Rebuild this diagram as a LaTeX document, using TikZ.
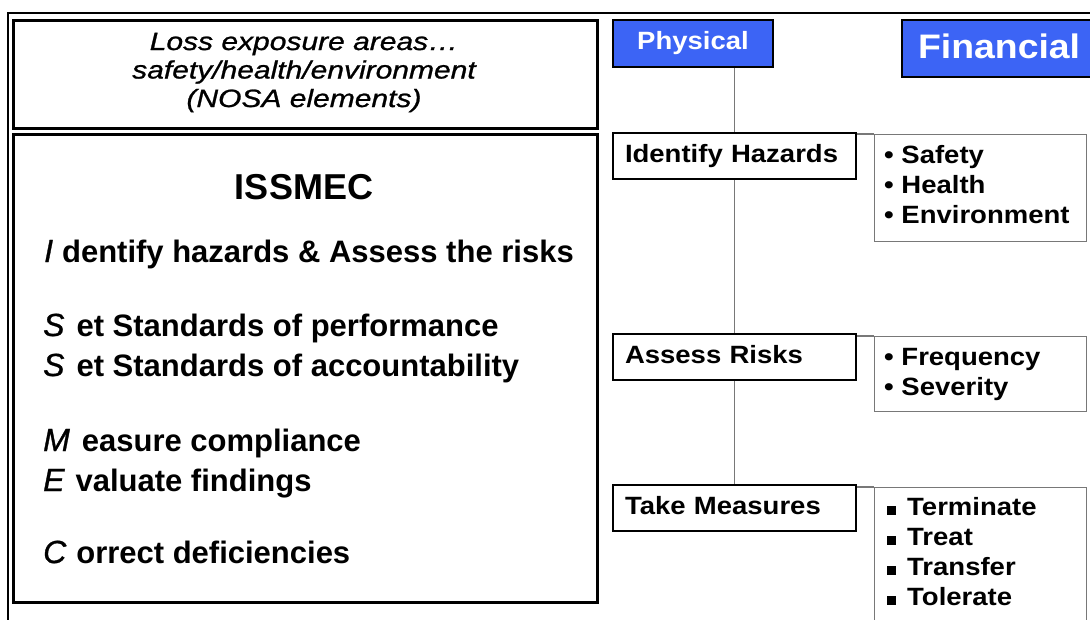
\documentclass[tikz,border=0pt]{standalone}
\usepackage{fontspec}
\setmainfont{Liberation Sans}
\newfontfamily\rfont{Liberation Sans}[FakeStretch=1.1]
\newfontfamily\tfont{Liberation Sans}[FakeStretch=1.2,FakeBold=1]
\newfontfamily\ifont{Liberation Sans}[FakeBold=1]
\definecolor{hdrblue}{RGB}{60,100,245}
\definecolor{linegray}{RGB}{120,120,120}
\newcommand\initl[1]{{\ifont\mdseries\itshape\fontsize{32}{32}\selectfont #1}}
\newcommand\sqbul{\raisebox{0.5pt}{\rule{9pt}{9pt}}\hspace{11pt}}
\begin{document}
\begin{tikzpicture}[x=1pt,y=-1pt,
  bigbox/.style={draw=black, line width=2.5pt, rectangle, inner sep=0pt, anchor=north west},
  stepbox/.style={draw=black, line width=2pt, rectangle, inner xsep=12pt, inner ysep=0pt,
     text width=219pt, minimum height=46pt, align=left, text height=18pt, text depth=5.5pt,
     font=\rfont\bfseries\fontsize{25}{30}\selectfont},
  listbox/.style={draw=linegray, line width=1.2pt, rectangle, inner sep=0pt, anchor=north west},
  listtext/.style={anchor=base west, inner sep=0pt, font=\rfont\bfseries\fontsize{25}{30}\selectfont},
  hdr/.style={draw=black, line width=2pt, fill=hdrblue, text=white, rectangle, inner sep=0pt},
  conn/.style={draw=linegray, line width=1.5pt},
  toptext/.style={anchor=base, inner sep=0pt, font=\tfont\itshape\fontsize{25}{28}\selectfont},
  lbody/.style={anchor=base west, inner sep=0pt, font=\bfseries\fontsize{31}{36}\selectfont}
]
\useasboundingbox (0,0) rectangle (1090,619);
% outer frame lines
\draw[line width=1.5pt] (8,625) -- (8,13) -- (1095,13);

% left boxes
\node[bigbox, minimum width=584pt, minimum height=108pt] (lossbox) at (12,19) {};
\node[toptext] (loss1) at (304,50) {Loss exposure areas…};
\node[toptext] (loss2) at (304,78.5) {safety/health/environment};
\node[toptext] (loss3) at (304,107) {(NOSA elements)};

\node[bigbox, minimum width=584pt, minimum height=468pt] (issbox) at (12,133) {};
\node[anchor=base, inner sep=0pt, font=\bfseries\fontsize{36}{40}\selectfont] (iss) at (304,199) {ISSMEC};
\node[lbody] (li) at (44,262) {\initl{I}\hspace{9pt}dentify hazards \& Assess the risks};
\node[lbody] (ls1) at (43,336) {\initl{S}\hspace{12pt}et Standards of performance};
\node[lbody] (ls2) at (43,376) {\initl{S}\hspace{12pt}et Standards of accountability};
\node[lbody] (lm) at (43,451) {\initl{M}\hspace{12pt}easure compliance};
\node[lbody] (le) at (43,491) {\initl{E}\hspace{11pt}valuate findings};
\node[lbody] (lc) at (43,563) {\initl{C}\hspace{10pt}orrect deficiencies};

% headers
\node[hdr, minimum width=160pt, minimum height=47pt, text height=18pt, text depth=5.5pt,
  font=\rfont\bfseries\fontsize{25}{30}\selectfont] (phys) at (693,43.5) {Physical};
\node[hdr, anchor=north west, minimum height=57pt, inner xsep=16pt, text width=168pt, align=left,
  text height=24.5pt, text depth=5pt, font=\rfont\bfseries\fontsize{34}{38}\selectfont] (fin) at (901,19) {Financial};

% steps
\node[stepbox] (hazard) at (734.5,156) {Identify Hazards};
\node[stepbox] (assess) at (734.5,357) {Assess Risks};
\node[stepbox] (take) at (734.5,508) {Take Measures};

% lists
\node[listbox, minimum width=212pt, minimum height=107pt] (hlist) at (874,134) {};
\node[listtext] (h1) at (884,163) {• Safety};
\node[listtext] (h2) at (884,193) {• Health};
\node[listtext] (h3) at (884,223) {• Environment};

\node[listbox, minimum width=212pt, minimum height=75pt] (alist) at (874,336) {};
\node[listtext] (a1) at (884,365) {• Frequency};
\node[listtext] (a2) at (884,395) {• Severity};

\node[listbox, minimum width=212pt, minimum height=150pt] (tlist) at (874,487) {};
\node[listtext] (t1) at (887,515) {\sqbul Terminate};
\node[listtext] (t2) at (887,545) {\sqbul Treat};
\node[listtext] (t3) at (887,575) {\sqbul Transfer};
\node[listtext] (t4) at (887,605) {\sqbul Tolerate};

% connectors
\draw[conn] (hazard.north) -- (hazard.north |- phys.south);
\draw[conn] (hazard.south) -- (assess.north);
\draw[conn] (assess.south) -- (take.north);
\draw[conn] (hazard.east |- hlist.north) -- (hlist.north west);
\draw[conn] (assess.east |- alist.north) -- (alist.north west);
\draw[conn] (take.east |- tlist.north) -- (tlist.north west);
\end{tikzpicture}
\end{document}
